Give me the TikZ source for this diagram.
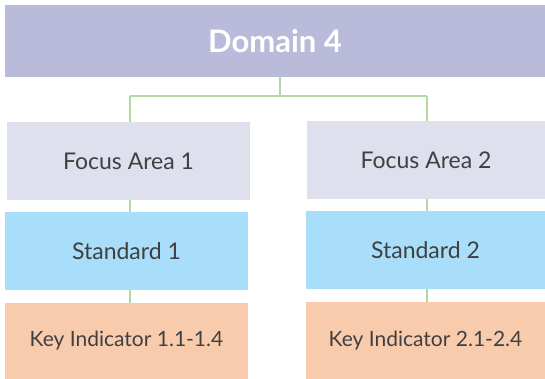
\documentclass[tikz,border=0pt]{standalone}
\usepackage{fontspec}
\setmainfont{Lato}
\usepackage{tikz}
\definecolor{D}{RGB}{186,186,218}
\definecolor{F}{RGB}{223,224,238}
\definecolor{S}{RGB}{168,222,249}
\definecolor{K}{RGB}{248,203,173}
\definecolor{G}{RGB}{178,218,160}
\definecolor{T}{RGB}{64,64,64}
\tikzset{
  tile/.style={inner sep=0pt, text=T, font=\fontsize{23}{27}\selectfont},
  link/.style={draw=G, line width=2pt}
}
% box from (x1,y1) to (x2,y2) in px, name, fill, text
\newcommand{\levelbox}[7]{\node[tile, fill=#6, minimum width=#3-#1, minimum height=#4-#2]
  (#5) at ({(#1+#3)/2},{-(#2+#4)/2}) {#7};}

\begin{document}
\begin{tikzpicture}[x=1pt,y=1pt]
\useasboundingbox (0,0) rectangle (545,-379);
\levelbox{5}{5}{545}{77}{dom}{D}{\textcolor{white}{\fontsize{31}{34}\selectfont\bfseries Domain 4}}
\levelbox{7}{122}{250}{200}{fa1}{F}{Focus Area 1}
\levelbox{307}{121}{545}{199}{fa2}{F}{Focus Area 2}
\levelbox{5}{212}{248}{290}{st1}{S}{Standard 1}
\levelbox{306}{211}{545}{289}{st2}{S}{Standard 2}
\levelbox{5}{303}{248}{379}{ki1}{K}{\fontsize{21}{24}\selectfont Key Indicator 1.1-1.4}
\levelbox{306}{302}{545}{379}{ki2}{K}{\fontsize{21}{24}\selectfont Key Indicator 2.1-2.4}
\coordinate (split) at (280,-96);
\coordinate (barL) at (130,-96);
\coordinate (barR) at (427,-96);
\draw[link] (dom.south -| split) -- (split);
\draw[link] (barL) -- (barR);
\draw[link] (barL) -- (barL |- fa1.north);
\draw[link] (barR) -- (barR |- fa2.north);
\foreach \a/\b/\c in {fa1/st1/barL, st1/ki1/barL, fa2/st2/barR, st2/ki2/barR}{
  \draw[link] (\c |- \a.south) -- (\c |- \b.north);
}
\end{tikzpicture}
\end{document}
